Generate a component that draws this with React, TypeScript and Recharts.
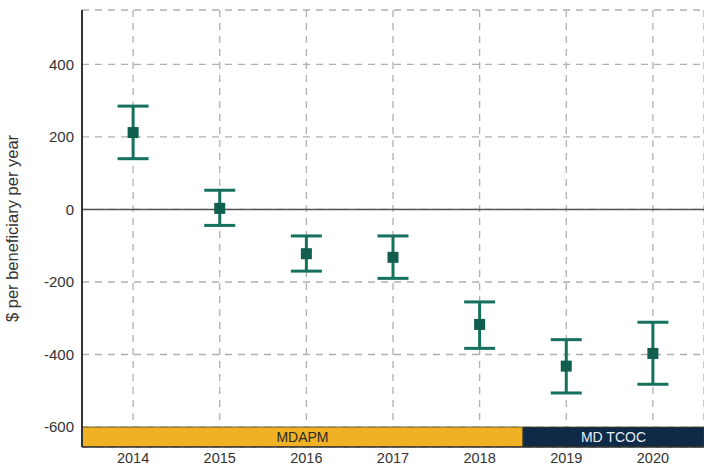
import React from "react";
import {
  ComposedChart,
  Scatter,
  XAxis,
  YAxis,
  CartesianGrid,
  ErrorBar,
  ReferenceLine,
  ReferenceArea,
  Label,
} from "recharts";

const years = [2014, 2015, 2016, 2017, 2018, 2019, 2020];
const estimates = [212, 3, -122, -132, -317, -432, -397];
const upperCI = [285, 53, -73, -73, -255, -359, -311];
const lowerCI = [140, -44, -170, -190, -383, -506, -482];
const yTicks = [-600, -400, -200, 0, 200, 400];
const periods = [
  { name: "MDAPM", from: 2013.41, to: 2018.5, fill: "#f0b224", text: "#2a2a2a" },
  { name: "MD TCOC", from: 2018.5, to: 2020.59, fill: "#0f2a46", text: "#e8eef5" },
];

const data = years.map((y, i) => ({
  year: y,
  value: estimates[i],
  err: [estimates[i] - lowerCI[i], upperCI[i] - estimates[i]],
}));

const FONT = "Liberation Sans, Arial, sans-serif";

const Square = (props: any) => {
  const { cx, cy } = props;
  if (cx == null || cy == null) return null;
  return <rect x={cx - 5.5} y={cy - 5.5} width={11} height={11} fill="#0f5e4e" />;
};

export default function App() {
  return (
    <div style={{ position: "absolute", left: 0, top: 0, background: "#fff" }}>
      <ComposedChart
        width={704}
        height={467}
        data={data}
        margin={{ top: 10, right: 0, left: 0, bottom: 0 }}
      >
        <CartesianGrid stroke="#b0b0b0" strokeDasharray="7 6" strokeWidth={1.3} />
        <XAxis
          dataKey="year"
          type="number"
          domain={[2013.41, 2020.59]}
          ticks={years}
          allowDataOverflow
          height={20}
          tickLine={false}
          tickMargin={0}
          axisLine={{ stroke: "#333", strokeWidth: 1.5 }}
          tick={{ fill: "#333", fontSize: 14.5, fontFamily: FONT }}
        />
        <YAxis
          type="number"
          domain={[-655, 550]}
          ticks={yTicks}
          allowDataOverflow
          width={82}
          tickLine={false}
          tickMargin={2}
          axisLine={{ stroke: "#333", strokeWidth: 2 }}
          tick={{ fill: "#333", fontSize: 15, fontFamily: FONT }}
        >
          <Label
            value="$ per beneficiary per year"
            angle={-90}
            position="insideLeft"
            offset={12}
            style={{ textAnchor: "middle", fill: "#333", fontSize: 16.5, fontFamily: FONT }}
          />
        </YAxis>
        <ReferenceLine y={0} stroke="#555" strokeWidth={1.5} />
        {periods.map((p) => (
          <ReferenceArea
            key={p.name}
            x1={p.from}
            x2={p.to}
            y1={-655}
            y2={-600}
            fill={p.fill}
            fillOpacity={1}
            stroke="#4a3d1c"
            strokeWidth={0.8}
            ifOverflow="hidden"
          >
            <Label
              value={p.name}
              position="center"
              style={{ fill: p.text, fontSize: 14, fontFamily: FONT }}
            />
          </ReferenceArea>
        ))}
        <Scatter dataKey="value" shape={<Square />} isAnimationActive={false}>
          <ErrorBar
            dataKey="err"
            direction="y"
            width={15.5}
            stroke="#15705d"
            strokeWidth={3}
            isAnimationActive={false}
          />
        </Scatter>
      </ComposedChart>
    </div>
  );
}
